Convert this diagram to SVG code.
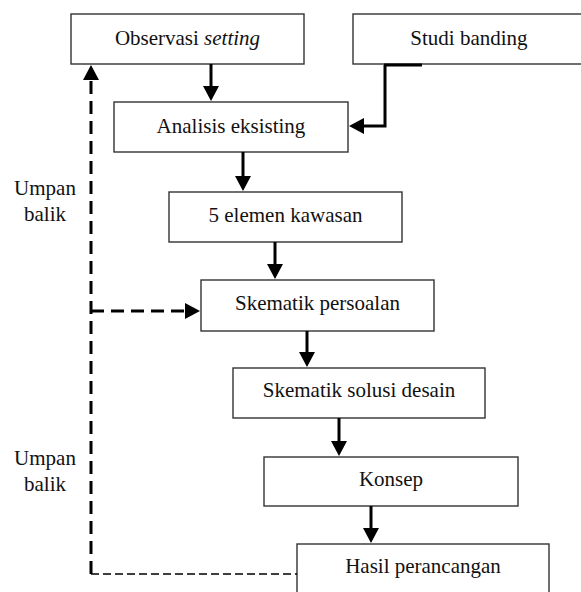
<svg xmlns="http://www.w3.org/2000/svg" width="581" height="592" viewBox="0 0 581 592">
<style>
.box{fill:#fff;stroke:#333;stroke-width:1.4}
.t{font-size:21px;fill:#111;text-anchor:middle}
.a{fill:none;stroke:#000;stroke-width:3}
.d{fill:none;stroke:#000;stroke-width:3;stroke-dasharray:13 7}
.d2{fill:none;stroke:#000;stroke-width:1.6;stroke-dasharray:8 4}
</style>
<defs>
<marker id="ah" markerUnits="userSpaceOnUse" markerWidth="16" markerHeight="16" refX="1" refY="8" orient="auto" overflow="visible">
<path d="M0,0 L15,8 L0,16 Z" fill="#000"/>
</marker>
</defs>
<rect width="581" height="592" fill="#fff"/>
<g font-family="'Liberation Serif', 'Times New Roman', serif">
<g id="n1"><rect class="box" x="71" y="14" width="233" height="50"/><text class="t" x="187.5" y="45">Observasi <tspan font-style="italic">setting</tspan></text></g>
<g id="n2"><rect class="box" x="353" y="14" width="233" height="50"/><text class="t" x="469" y="45">Studi banding</text></g>
<g id="n3"><rect class="box" x="114" y="102" width="234" height="50"/><text class="t" x="231" y="133">Analisis eksisting</text></g>
<g id="n4"><rect class="box" x="169" y="192" width="233" height="50"/><text class="t" x="285.5" y="222">5 elemen kawasan</text></g>
<g id="n5"><rect class="box" x="201" y="280" width="233" height="51"/><text class="t" x="317.5" y="310">Skematik persoalan</text></g>
<g id="n6"><rect class="box" x="233" y="368" width="252" height="50"/><text class="t" x="359" y="397">Skematik solusi desain</text></g>
<g id="n7"><rect class="box" x="264" y="457" width="254" height="49"/><text class="t" x="391" y="486">Konsep</text></g>
<g id="n8"><rect class="box" x="297" y="544" width="252" height="60"/><text class="t" x="423" y="573">Hasil perancangan</text></g>
<g id="labels">
<text class="t" x="45" y="195">Umpan</text><text class="t" x="45" y="221">balik</text>
<text class="t" x="45" y="465">Umpan</text><text class="t" x="45" y="491">balik</text>
</g>
</g>
<g id="connectors">
<path class="a" d="M211,64 V87" marker-end="url(#ah)"/>
<path class="a" d="M384,65 H422 M385,65 V126 H363" marker-end="url(#ah)"/>
<path class="a" d="M243,152 V177" marker-end="url(#ah)"/>
<path class="a" d="M275,242 V265" marker-end="url(#ah)"/>
<path class="a" d="M307,331 V353" marker-end="url(#ah)"/>
<path class="a" d="M339,418 V442" marker-end="url(#ah)"/>
<path class="a" d="M371,506 V529" marker-end="url(#ah)"/>
<path class="d" d="M91,574 V80"/>
<path d="M83,80 L91,65 L99,80 Z" fill="#000"/>
<path class="d" d="M91,311 H186"/>
<path d="M185,303 L200,311 L185,319 Z" fill="#000"/>
<path class="d2" d="M91,574 H297"/>
</g>
</svg>
